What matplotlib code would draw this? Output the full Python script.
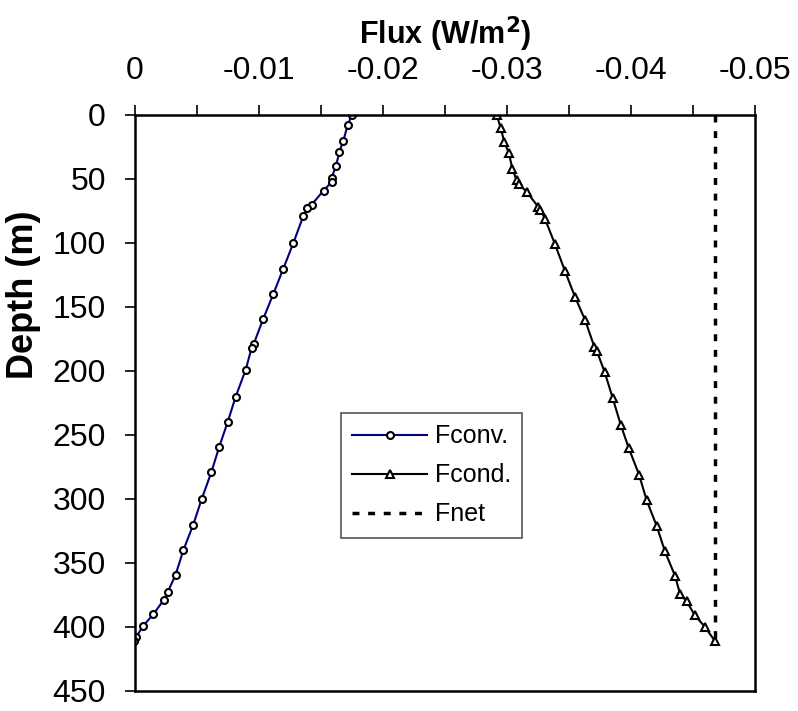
import matplotlib
matplotlib.use("Agg")
import matplotlib.pyplot as plt
from matplotlib.ticker import MultipleLocator, FuncFormatter

plt.rcParams['font.family'] = ['Liberation Sans', 'DejaVu Sans']

# convective flux (W/m2) vs depth (m)
conv_depth = [0, 8, 20, 29, 40, 49, 52, 59, 70, 73, 79, 100, 120, 140, 159,
              179, 182, 199, 220, 240, 259, 279, 300, 320, 340, 359, 373,
              379, 390, 399, 408, 411]
conv_flux = [-0.01748, -0.01715, -0.0168, -0.01648, -0.0162, -0.01586,
             -0.01589, -0.01521, -0.01425, -0.0139, -0.01357, -0.01277,
             -0.01196, -0.01115, -0.01035, -0.00957, -0.0094, -0.00893,
             -0.00812, -0.00747, -0.0068, -0.00616, -0.00538, -0.0047,
             -0.0039, -0.00328, -0.00263, -0.00231, -0.00148, -0.00067,
             -0.00008, 0.0001]

# conductive flux
cond_depth = [0, 10, 21, 30, 42, 51, 54, 60, 72, 74, 81, 101, 122, 142, 160,
              181, 184, 201, 221, 242, 260, 281, 301, 321, 341, 360, 374,
              380, 391, 400, 411]
cond_flux = [-0.02917, -0.02949, -0.02978, -0.03016, -0.03043, -0.03078,
             -0.03094, -0.03159, -0.03253, -0.03269, -0.03306, -0.03387,
             -0.03468, -0.03548, -0.03629, -0.03704, -0.03723, -0.03788,
             -0.03852, -0.03917, -0.03981, -0.04065, -0.04126, -0.04207,
             -0.04274, -0.04355, -0.04395, -0.04449, -0.04516, -0.04597,
             -0.04677]

# net flux
net_depth = [0, 411]
net_flux = [-0.0468, -0.0468]

fig = plt.figure(figsize=(7.98, 7.11), dpi=100)
ax = fig.add_axes([135 / 798, 1 - 691 / 711, 620 / 798, 576 / 711])

ax.plot(conv_flux, conv_depth, color='#000080', lw=1.5, marker='o',
        ms=5, mfc='white', mec='black', mew=1.5, label='Fconv.')
ax.plot(cond_flux, cond_depth, color='black', lw=1.5, marker='^',
        ms=6, mfc='white', mec='black', mew=1.5, label='Fcond.')
ax.plot(net_flux, net_depth, color='black', lw=2.5, linestyle=(0, (2, 2.5)),
        label='Fnet')

ax.set_xlim(0, -0.05)
ax.set_ylim(450, 0)

ax.xaxis.set_ticks_position('top')
ax.xaxis.set_label_position('top')
ax.xaxis.set_major_locator(MultipleLocator(0.01))
ax.xaxis.set_minor_locator(MultipleLocator(0.005))
ax.xaxis.set_major_formatter(FuncFormatter(lambda v, p: '0' if abs(v) < 1e-9 else '%g' % v))
ax.yaxis.set_major_locator(MultipleLocator(50))

ax.tick_params(axis='x', which='both', direction='out', length=7, width=1.2,
               labelsize=23, pad=14)
ax.tick_params(axis='y', which='major', direction='out', length=7, width=1.2,
               labelsize=23, pad=14)

for s in ax.spines.values():
    s.set_linewidth(1.8)

ax.set_xlabel('Flux (W/m$^\\mathbf{2}$)', fontsize=22, fontweight='bold', labelpad=8)
ax.set_ylabel('Depth (m)', fontsize=26, fontweight='bold')
ax.yaxis.set_label_coords(-0.152, 0.6875)

leg = ax.legend(loc='upper left', bbox_to_anchor=(0.332, 0.4826),
                borderaxespad=0, fontsize=18, fancybox=False, framealpha=1,
                edgecolor='#555555', handlelength=3.0, handletextpad=0.3,
                labelspacing=0.6, borderpad=0.45)
leg.get_frame().set_linewidth(1.2)

fig.savefig('out.png', dpi=100)
